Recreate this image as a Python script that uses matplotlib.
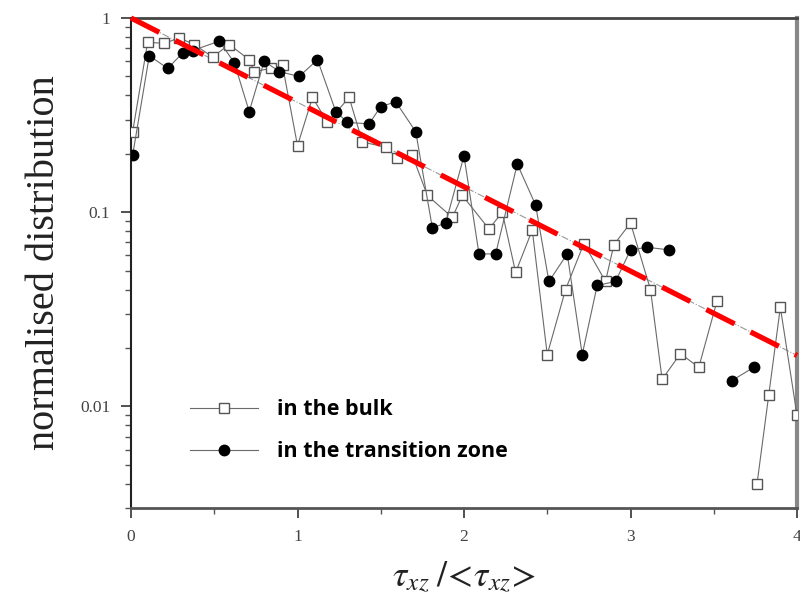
import numpy as np
import matplotlib
matplotlib.use("Agg")
import matplotlib.pyplot as plt
from matplotlib.ticker import FixedLocator, NullFormatter, LogLocator

nan = np.nan

# open squares: "in the bulk"
bulk_x = [0.01, 0.10, 0.20, 0.29, 0.38, 0.49, 0.59, 0.71, 0.74, 0.84, 0.91,
          1.00, 1.09, 1.18, 1.31, 1.39, 1.53, 1.60, 1.69, 1.78, 1.93, 1.99,
          2.15, 2.23, 2.31, 2.41, 2.50, 2.61, 2.72, 2.85, 2.90, 3.00, 3.12,
          3.19, 3.30, 3.41, 3.52, nan, 3.76, 3.83, 3.90, 4.00]
bulk_y = [0.26, 0.75, 0.74, 0.79, 0.73, 0.63, 0.73, 0.61, 0.53, 0.55, 0.57,
          0.22, 0.39, 0.29, 0.39, 0.23, 0.216, 0.19, 0.196, 0.122, 0.094, 0.122,
          0.082, 0.10, 0.049, 0.081, 0.0185, 0.040, 0.069, 0.044, 0.068, 0.088, 0.040,
          0.0138, 0.0187, 0.0159, 0.035, nan, 0.0040, 0.0114, 0.0324, 0.0090]

# filled circles: "in the transition zone"
trans_x = [0.01, 0.11, 0.22, 0.31, 0.37, 0.53, 0.62, 0.71, 0.80, 0.89, 1.01,
           1.12, 1.23, 1.30, 1.43, 1.50, 1.59, 1.71, 1.81, 1.89, 2.00, 2.09,
           2.19, 2.32, 2.43, 2.51, 2.62, 2.71, 2.80, 2.91, 3.00, 3.10, 3.23,
           nan, 3.61, 3.74]
trans_y = [0.197, 0.64, 0.55, 0.66, 0.68, 0.76, 0.59, 0.33, 0.60, 0.53, 0.50,
           0.61, 0.33, 0.29, 0.285, 0.35, 0.37, 0.26, 0.083, 0.088, 0.195, 0.061,
           0.061, 0.177, 0.109, 0.044, 0.061, 0.0185, 0.042, 0.044, 0.064, 0.066, 0.064,
           nan, 0.0136, 0.0159]

# exponential fit line (straight on log axis)
fit_x = [0.0, 4.0]
fit_y = [1.0, 0.0183]

x_ticks = [0, 1, 2, 3, 4]
x_ticklabels = ["0", "1", "2", "3", "4"]
y_ticks = [0.01, 0.1, 1]
y_ticklabels = ["0.01", "0.1", "1"]

plt.rcParams["mathtext.fontset"] = "stix"

fig = plt.figure(figsize=(8.0, 6.03), dpi=100)
ax = fig.add_axes([131/800, 1 - 508/603, (797-131)/800, (508-18)/603])
ax.set_yscale("log")
ax.set_xlim(0, 4)
ax.set_ylim(0.003, 1)

line_col = "#6a6a6a"
ax.plot(bulk_x, bulk_y, color=line_col, lw=0.8, marker="s", ms=6.5,
        mfc="white", mec="#555555", mew=1.0, label="in the bulk", zorder=3)
ax.plot(trans_x, trans_y, color=line_col, lw=0.8, marker="o", ms=7.5,
        mfc="black", mec="black", label="in the transition zone", zorder=4)

ax.plot(fit_x, fit_y, color="#999999", lw=0.8, ls="-.", zorder=2)
ax.plot(fit_x, fit_y, color="#ff0000", lw=3.8, dashes=(6, 3.4), zorder=5,
        clip_on=False)

ax.xaxis.set_major_locator(FixedLocator(x_ticks))
ax.set_xticklabels(x_ticklabels)
ax.xaxis.set_minor_locator(FixedLocator([0.5, 1.5, 2.5, 3.5]))
ax.yaxis.set_major_locator(FixedLocator(y_ticks))
ax.set_yticklabels(y_ticklabels)
ax.yaxis.set_minor_locator(LogLocator(base=10, subs=np.arange(2, 10)))
ax.yaxis.set_minor_formatter(NullFormatter())

for lab in ax.get_xticklabels() + ax.get_yticklabels():
    lab.set_fontfamily("Liberation Serif")
    lab.set_fontsize(12.5)
    lab.set_color("#444444")
ax.tick_params(axis="both", which="major", direction="out", length=7,
               width=1.2, color="#333333", pad=8)
ax.tick_params(axis="both", which="minor", direction="out", length=4,
               width=1.0, color="#555555")
ax.tick_params(top=False, right=False)

ax.spines["left"].set_linewidth(1.5)
ax.spines["left"].set_color("#222222")
ax.spines["bottom"].set_linewidth(2.0)
ax.spines["bottom"].set_color("#555555")
ax.spines["top"].set_linewidth(2.0)
ax.spines["top"].set_color("#444444")
ax.spines["right"].set_linewidth(3.0)
ax.spines["right"].set_color("#888888")

ax.set_ylabel("normalised distribution", family="Liberation Serif",
              fontsize=29, color="#222222", labelpad=12)
ax.set_xlabel(r"$\tau_{xz}\;/\!<\!\tau_{xz}\!>$", fontsize=26, labelpad=11,
              color="#222222")

leg = ax.legend(loc="upper left", bbox_to_anchor=(0.0886, 0.222),
                frameon=False, handlelength=3.15, handletextpad=0.9,
                labelspacing=0.97, borderaxespad=0, borderpad=0,
                prop=dict(family="Open Sans", weight="bold", size=15.5))

fig.savefig("out.png", dpi=100)
